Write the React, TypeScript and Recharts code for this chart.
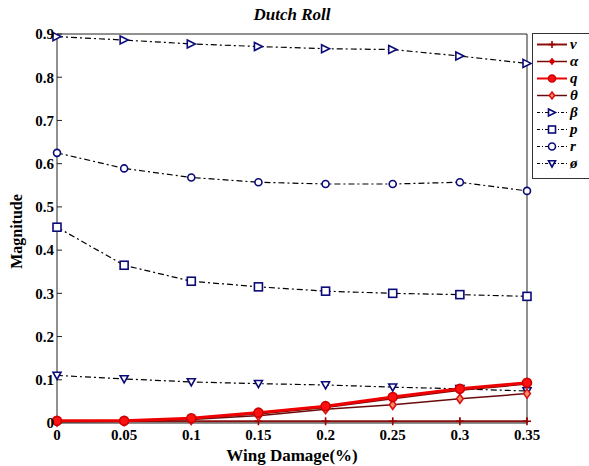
import { LineChart, Line, XAxis, YAxis, Legend } from 'recharts';

const damage = [0, 0.05, 0.1, 0.15, 0.2, 0.25, 0.3, 0.35];
const vMag = [0.004, 0.004, 0.004, 0.004, 0.004, 0.004, 0.004, 0.004];
const alphaMag = [0.004, 0.004, 0.010, 0.021, 0.036, 0.056, 0.076, 0.090];
const qMag = [0.005, 0.005, 0.011, 0.024, 0.039, 0.060, 0.079, 0.093];
const thetaMag = [0.003, 0.004, 0.008, 0.017, 0.032, 0.042, 0.056, 0.068];
const betaMag = [0.894, 0.886, 0.877, 0.871, 0.866, 0.864, 0.849, 0.832];
const pMag = [0.453, 0.365, 0.328, 0.315, 0.305, 0.300, 0.297, 0.293];
const rMag = [0.625, 0.589, 0.568, 0.557, 0.553, 0.553, 0.557, 0.537];
const phiMag = [0.110, 0.102, 0.095, 0.091, 0.088, 0.083, 0.079, 0.074];

const xTicks = [0, 0.05, 0.1, 0.15, 0.2, 0.25, 0.3, 0.35];
const yTicks = [0, 0.1, 0.2, 0.3, 0.4, 0.5, 0.6, 0.7, 0.8, 0.9];

const data = damage.map((d, i) => ({
    damage: d,
    v: vMag[i],
    alpha: alphaMag[i],
    q: qMag[i],
    theta: thetaMag[i],
    beta: betaMag[i],
    p: pMag[i],
    r: rMag[i],
    phi: phiMag[i],
}));

type Shape = 'plus' | 'star' | 'circle' | 'diamond' | 'triRight' | 'square' | 'triDown';

interface Series {
    key: string;
    label: string;
    color: string;
    width: number;
    dash?: string;
    shape: Shape;
    mStroke: string;
    mFill: string;
    size: number;
}

const NAVY = '#0a0a78';
const DASHDOT = '6 3 2 3';

const series: Series[] = [
    { key: 'v', label: 'v', color: '#8a0f0f', width: 2, shape: 'plus', mStroke: '#9a0000', mFill: 'none', size: 4 },
    { key: 'alpha', label: 'α', color: '#7a0a0a', width: 1.5, shape: 'star', mStroke: '#cc0000', mFill: '#dd0000', size: 3.5 },
    { key: 'q', label: 'q', color: '#ee0000', width: 3, shape: 'circle', mStroke: '#cc0000', mFill: '#ff1010', size: 4.5 },
    { key: 'theta', label: 'θ', color: '#6a0a0a', width: 1.5, shape: 'diamond', mStroke: '#dd1010', mFill: '#f49070', size: 4.5 },
    { key: 'beta', label: 'β', color: '#000000', width: 1.2, dash: DASHDOT, shape: 'triRight', mStroke: NAVY, mFill: '#ffffff', size: 4 },
    { key: 'p', label: 'p', color: '#000000', width: 1.2, dash: DASHDOT, shape: 'square', mStroke: NAVY, mFill: '#ffffff', size: 4 },
    { key: 'r', label: 'r', color: '#000000', width: 1.2, dash: DASHDOT, shape: 'circle', mStroke: NAVY, mFill: '#ffffff', size: 3.5 },
    { key: 'phi', label: 'ø', color: '#000000', width: 1.2, dash: DASHDOT, shape: 'triDown', mStroke: NAVY, mFill: '#ffffff', size: 4 },
];

// draw order: dash-dot ones under the red ones
const drawOrder = ['beta', 'p', 'r', 'phi', 'v', 'theta', 'alpha', 'q'];

function Marker({ shape, cx, cy, stroke, fill, s }: { shape: Shape; cx: number; cy: number; stroke: string; fill: string; s: number }) {
    const sw = 1.6;
    switch (shape) {
        case 'plus':
            return (
                <g stroke={stroke} strokeWidth={1.6}>
                    <line x1={cx - s} y1={cy} x2={cx + s} y2={cy} />
                    <line x1={cx} y1={cy - s} x2={cx} y2={cy + s} />
                </g>
            );
        case 'star':
            return (
                <g stroke={stroke} strokeWidth={1.4}>
                    <line x1={cx - s} y1={cy} x2={cx + s} y2={cy} />
                    <line x1={cx} y1={cy - s} x2={cx} y2={cy + s} />
                    <circle cx={cx} cy={cy} r={s * 0.5} fill={fill} />
                </g>
            );
        case 'circle':
            return <circle cx={cx} cy={cy} r={s} stroke={stroke} strokeWidth={sw} fill={fill} />;
        case 'diamond':
            return (
                <polygon
                    points={`${cx},${cy - s} ${cx + s * 0.75},${cy} ${cx},${cy + s} ${cx - s * 0.75},${cy}`}
                    stroke={stroke}
                    strokeWidth={sw}
                    fill={fill}
                />
            );
        case 'triRight':
            return (
                <polygon
                    points={`${cx - s},${cy - s} ${cx + s},${cy} ${cx - s},${cy + s}`}
                    stroke={stroke}
                    strokeWidth={sw}
                    fill={fill}
                />
            );
        case 'square':
            return <rect x={cx - s} y={cy - s} width={2 * s} height={2 * s} stroke={stroke} strokeWidth={sw} fill={fill} />;
        case 'triDown':
            return (
                <polygon
                    points={`${cx - s},${cy - s * 0.8} ${cx + s},${cy - s * 0.8} ${cx},${cy + s}`}
                    stroke={stroke}
                    strokeWidth={sw}
                    fill={fill}
                />
            );
    }
    return null;
}

const dotOf = (s: Series) => (props: any) => (
    <Marker
        key={`${s.key}-${props.index}`}
        shape={s.shape}
        cx={props.cx}
        cy={props.cy}
        stroke={s.mStroke}
        fill={s.mFill}
        s={s.size}
    />
);

const serif = '"Times New Roman", "Liberation Serif", Times, serif';

function LegendBox() {
    return (
        <div
            style={{
                border: '1px solid #333',
                background: '#fff',
                padding: '2px 0 6px 2px',
                width: 70,
                boxSizing: 'border-box',
            }}
        >
            {series.map((s) => (
                <div key={s.key} style={{ display: 'flex', alignItems: 'center', height: 17 }}>
                    <svg width={34} height={17}>
                        <line x1={2} y1={8.5} x2={32} y2={8.5} stroke={s.color} strokeWidth={Math.min(s.width, 2)} strokeDasharray={s.dash ? '3 2 1 2' : undefined} />
                        <Marker shape={s.shape} cx={17} cy={8.5} stroke={s.mStroke} fill={s.mFill} s={Math.min(s.size, 3.5)} />
                    </svg>
                    <span
                        style={{
                            fontFamily: serif,
                            fontWeight: 'bold',
                            fontStyle: 'italic',
                            fontSize: 15,
                            lineHeight: '15px',
                            marginLeft: 1,
                        }}
                    >
                        {s.label}
                    </span>
                </div>
            ))}
        </div>
    );
}

const tickStyle = { fill: '#000', fontSize: 15, fontWeight: 'bold', fontFamily: serif };

export default function App() {
    return (
        <div style={{ position: 'absolute', left: 0, top: 0, width: 589, height: 466, overflow: 'hidden', background: '#fff' }}>
            <div
                style={{
                    position: 'absolute',
                    left: 57,
                    width: 470,
                    top: 5,
                    textAlign: 'center',
                    fontFamily: serif,
                    fontWeight: 'bold',
                    fontStyle: 'italic',
                    fontSize: 17,
                    lineHeight: '19px',
                    color: '#000',
                    zIndex: 2,
                }}
            >
                Dutch Roll
            </div>
            <LineChart width={589} height={466} data={data} margin={{ top: 4, right: 0, bottom: 0, left: 0 }}>
                <XAxis
                    dataKey="damage"
                    type="number"
                    domain={[0, 0.35]}
                    ticks={xTicks}
                    interval={0}
                    height={43}
                    stroke="#222"
                    tickSize={-5}
                    tickMargin={11}
                    tick={tickStyle}
                    label={{
                        value: 'Wing Damage(%)',
                        position: 'insideBottom',
                        offset: 5,
                        fill: '#000',
                        fontSize: 17,
                        fontWeight: 'bold',
                        fontFamily: serif,
                    }}
                />
                <XAxis
                    xAxisId="top"
                    orientation="top"
                    dataKey="damage"
                    type="number"
                    domain={[0, 0.35]}
                    ticks={xTicks}
                    height={30}
                    stroke="#222"
                    tickSize={-5}
                    tick={false}
                />
                <YAxis
                    type="number"
                    domain={[0, 0.9]}
                    ticks={yTicks}
                    interval={0}
                    width={57}
                    stroke="#222"
                    tickSize={-5}
                    tickMargin={8}
                    tick={tickStyle}
                    label={{
                        content: (p: any) => {
                            const vb = p.viewBox;
                            const x = vb.x + 22;
                            const y = vb.y + vb.height / 2 + 3;
                            return (
                                <text
                                    x={x}
                                    y={y}
                                    transform={`rotate(-90 ${x} ${y})`}
                                    textAnchor="middle"
                                    fill="#000"
                                    fontSize={16}
                                    fontWeight="bold"
                                    fontFamily={serif}
                                >
                                    Magnitude
                                </text>
                            );
                        },
                    }}
                />
                <YAxis
                    yAxisId="right"
                    orientation="right"
                    type="number"
                    domain={[0, 0.9]}
                    ticks={yTicks}
                    width={62}
                    stroke="#222"
                    tickSize={-5}
                    tick={false}
                />
                <Legend
                    layout="horizontal"
                    verticalAlign="middle"
                    align="center"
                    width={70}
                    wrapperStyle={{ left: 532, top: 33, width: 70 }}
                    content={() => <LegendBox />}
                />
                {drawOrder.map((k) => {
                    const s = series.find((x) => x.key === k)!;
                    return (
                        <Line
                            key={s.key}
                            dataKey={s.key}
                            name={s.label}
                            stroke={s.color}
                            strokeWidth={s.width}
                            strokeDasharray={s.dash}
                            dot={dotOf(s)}
                            activeDot={false}
                            isAnimationActive={false}
                        />
                    );
                })}
            </LineChart>
        </div>
    );
}
